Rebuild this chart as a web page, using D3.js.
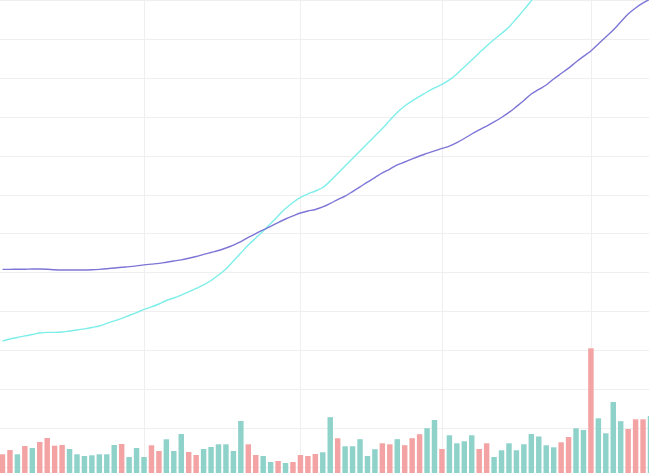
<!DOCTYPE html>
<html>
<head>
<meta charset="utf-8">
<script src="https://cdn.jsdelivr.net/npm/d3@7"></script>
<style>
  html, body { margin: 0; padding: 0; background: #fff; }
  svg { display: block; }
</style>
</head>
<body>
<div id="chart"></div>
<script>
// chart size = window size
var svgWidth = 649;
var svgHeight = 473;

// price ticks (horizontal grid) and month starts (vertical grid, by day index)
var priceTicks = [8, 10, 12, 14, 16, 18, 20, 22, 24, 26, 28, 30, 32];
var monthStarts = [19, 40, 59, 79];

// long moving average (purple)
var maLong = [18.15, 18.15, 18.16, 18.16, 18.17, 18.17, 18.16, 18.13, 18.12, 18.12,
  18.12, 18.12, 18.13, 18.15, 18.18, 18.22, 18.26, 18.29, 18.33, 18.38,
  18.42, 18.46, 18.52, 18.58, 18.64, 18.72, 18.81, 18.92, 19.02, 19.12,
  19.25, 19.40, 19.58, 19.79, 19.99, 20.18, 20.36, 20.56, 20.74, 20.90,
  21.05, 21.15, 21.23, 21.36, 21.54, 21.74, 21.92, 22.15, 22.39, 22.64,
  22.87, 23.11, 23.31, 23.52, 23.67, 23.83, 23.98, 24.11, 24.24, 24.37,
  24.49, 24.67, 24.88, 25.11, 25.32, 25.52, 25.73, 25.96, 26.22, 26.52,
  26.83, 27.17, 27.40, 27.63, 27.94, 28.22, 28.50, 28.81, 29.10, 29.38,
  29.74, 30.10, 30.46, 30.87, 31.28, 31.59, 31.85, 32.05];

// short moving average (cyan)
var maShort = [14.47, 14.57, 14.65, 14.73, 14.80, 14.88, 14.91, 14.91, 14.93, 14.98,
  15.03, 15.09, 15.16, 15.24, 15.37, 15.50, 15.63, 15.78, 15.93, 16.09,
  16.22, 16.37, 16.55, 16.68, 16.83, 16.99, 17.17, 17.35, 17.58, 17.86,
  18.17, 18.58, 18.99, 19.40, 19.76, 20.12, 20.51, 20.90, 21.28, 21.59,
  21.85, 22.03, 22.18, 22.36, 22.69, 23.08, 23.47, 23.85, 24.24, 24.62,
  25.01, 25.39, 25.81, 26.22, 26.55, 26.81, 27.04, 27.27, 27.48, 27.66,
  27.89, 28.20, 28.56, 28.92, 29.28, 29.64, 29.97, 30.28, 30.61, 31.05,
  31.49, 31.97, 32.46, 32.93, 33.39, 33.85, 34.26, 34.67, 35.08, 35.50,
  35.91, 36.32, 36.73, 37.09, 37.45, 37.81, 38.17, 38.48];

// daily volume
var volume = [4.57, 5.0, 4.57, 5.4, 5.2, 5.8, 6.2, 5.43, 5.5, 5.1,
  4.57, 4.4, 4.47, 4.57, 4.57, 5.5, 5.6, 4.3, 5.2, 4.3,
  5.47, 4.9, 6.07, 4.9, 6.6, 4.8, 4.5, 5.1, 5.3, 5.57,
  5.57, 4.9, 7.9, 5.57, 4.5, 4.4, 3.8, 3.9, 3.7, 3.8,
  4.5, 4.4, 4.6, 4.77, 8.28, 6.17, 5.37, 5.37, 6.08, 4.4,
  5.08, 5.67, 5.57, 6.08, 5.48, 6.18, 6.58, 7.18, 8.0, 5.1,
  6.47, 5.67, 5.87, 6.47, 5.1, 5.67, 4.3, 4.97, 5.67, 4.97,
  5.57, 6.6, 6.35, 5.47, 5.27, 5.77, 6.3, 7.17, 7.0, 15.17,
  8.17, 6.67, 9.8, 7.88, 7.1, 8.07, 8.07, 8.4];

// 1 = up day (red), -1 = down day (green)
var direction = [1, 1, -1, 1, -1, 1, 1, 1, 1, -1,
  -1, -1, -1, -1, -1, -1, 1, -1, -1, -1,
  1, 1, -1, -1, -1, 1, 1, -1, -1, -1,
  -1, -1, -1, 1, 1, -1, -1, 1, -1, 1,
  1, 1, 1, -1, -1, 1, -1, -1, -1, -1,
  -1, 1, 1, -1, 1, 1, 1, -1, -1, 1,
  -1, -1, -1, -1, 1, 1, -1, -1, -1, -1,
  -1, -1, -1, -1, -1, 1, 1, -1, -1, 1,
  -1, -1, -1, -1, 1, 1, 1, -1];

var days = d3.range(volume.length);

var svg = d3.select("#chart")
  .append("svg")
  .attr("width", svgWidth)
  .attr("height", svgHeight);

svg.append("defs").append("clipPath")
  .attr("id", "plot-clip")
  .append("rect")
  .attr("width", svgWidth)
  .attr("height", svgHeight);

// x: one slot per trading day
var xScale = d3.scalePoint()
  .domain(days)
  .range([2.5, 650.5]);
var step = xScale.step();
var barWidth = step * 0.73;

var yPrice = d3.scaleLinear()
  .domain([8, 32])
  .range([466.8, 0]);

var yVolume = d3.scaleLinear()
  .domain([0, 16])
  .range([500, 340]);

// grid
var grid = svg.append("g").attr("class", "grid");

grid.selectAll("line.h")
  .data(priceTicks)
  .enter()
  .append("line")
  .attr("class", "h")
  .attr("x1", 0)
  .attr("x2", svgWidth)
  .attr("y1", d => Math.round(yPrice(d)) + 0.5)
  .attr("y2", d => Math.round(yPrice(d)) + 0.5)
  .attr("stroke", "#efefef")
  .attr("stroke-width", 1);

grid.selectAll("line.v")
  .data(monthStarts)
  .enter()
  .append("line")
  .attr("class", "v")
  .attr("x1", d => Math.round(xScale(d)) + 0.5)
  .attr("x2", d => Math.round(xScale(d)) + 0.5)
  .attr("y1", 0)
  .attr("y2", svgHeight)
  .attr("stroke", "#efefef")
  .attr("stroke-width", 1);

var plot = svg.append("g").attr("clip-path", "url(#plot-clip)");

// volume bars
plot.selectAll("rect.vol")
  .data(days)
  .enter()
  .append("rect")
  .attr("class", "vol")
  .attr("x", d => xScale(d) - barWidth / 2)
  .attr("y", d => yVolume(volume[d]))
  .attr("width", barWidth)
  .attr("height", d => yVolume(0) - yVolume(volume[d]))
  .attr("fill", d => direction[d] > 0 ? "#f3a3a3" : "#8ed2ca");

// moving averages
var lineShort = d3.line()
  .x(d => xScale(d))
  .y(d => yPrice(maShort[d]))
  .curve(d3.curveMonotoneX);

var lineLong = d3.line()
  .x(d => xScale(d))
  .y(d => yPrice(maLong[d]))
  .curve(d3.curveMonotoneX);

plot.append("path")
  .datum(days)
  .attr("d", lineShort)
  .attr("fill", "none")
  .attr("stroke", "#7eeeea")
  .attr("stroke-width", 1.4);

plot.append("path")
  .datum(days)
  .attr("d", lineLong)
  .attr("fill", "none")
  .attr("stroke", "#7d76d6")
  .attr("stroke-width", 1.4);
</script>
</body>
</html>
